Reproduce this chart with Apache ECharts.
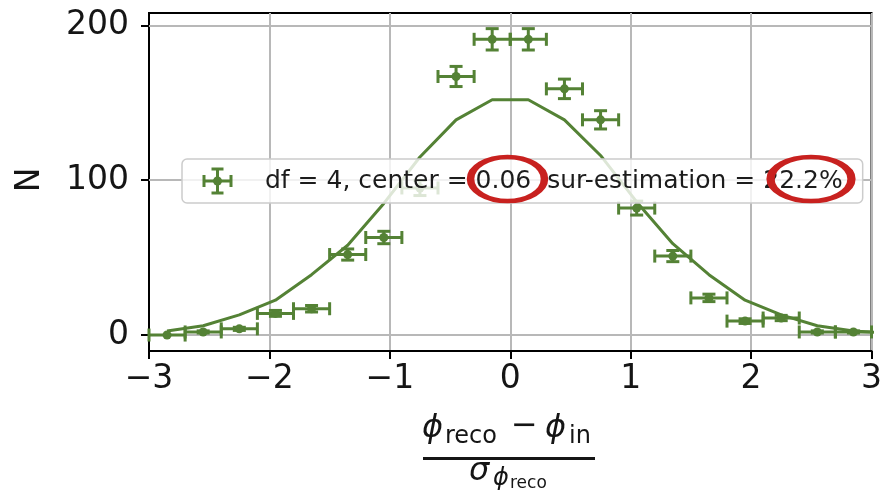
<!DOCTYPE html>
<html>
<head>
<meta charset="utf-8">
<script src="https://cdn.jsdelivr.net/npm/echarts@6/dist/echarts.min.js"></script>
<style>
  html, body { margin: 0; padding: 0; background: #ffffff; }
  #chart { width: 885px; height: 495px; }
</style>
</head>
<body>
<div id="chart"></div>
<script>
// Histogram of normalised residuals: bin centres, counts and uncertainties
const binCenters = [-2.85, -2.55, -2.25, -1.95, -1.65, -1.35, -1.05, -0.75, -0.45, -0.15,
                     0.15,  0.45,  0.75,  1.05,  1.35,  1.65,  1.95,  2.25,  2.55,  2.85];
const binHalfWidths = [0.15, 0.15, 0.15, 0.15, 0.15, 0.15, 0.15, 0.15, 0.15, 0.15,
                       0.15, 0.15, 0.15, 0.15, 0.15, 0.15, 0.15, 0.15, 0.15, 0.15];
const counts = [0, 2, 4, 14, 17, 52, 63, 95, 167, 191,
                191, 159, 139, 82, 51, 24, 9, 11, 2, 2];
const countErrors = [0, 0.7, 1.0, 1.9, 2.1, 3.6, 4.0, 4.9, 6.5, 6.9,
                     6.9, 6.3, 5.9, 4.5, 3.6, 2.4, 1.5, 1.7, 0.7, 0.7];

// Student-t fit curve evaluated at the bin centres
const fitX = [-2.85, -2.55, -2.25, -1.95, -1.65, -1.35, -1.05, -0.75, -0.45, -0.15,
               0.15,  0.45,  0.75,  1.05,  1.35,  1.65,  1.95,  2.25,  2.55,  2.85, 3.15];
const fitY = [2.6, 6, 13, 22.5, 39, 58, 85, 115, 139, 152,
              152, 139, 116, 86, 59, 39, 22.5, 13, 6, 2.6, 1.2];

const xTicks = [-3, -2, -1, 0, 1, 2, 3];
const yTicks = [0, 100, 200];
const legendLabel = 'df = 4, center = 0.06  sur-estimation = 22.2%';

const green = '#548235';
const font = 'DejaVu Sans';
const ink = '#151515';

const errorData = binCenters.map((x, i) => [x, counts[i], binHalfWidths[i], countErrors[i]]);
const fitData = fitX.map((x, i) => [x, fitY[i]]);

const minusFmt = v => (v < 0 ? '\u2212' + Math.abs(v) : String(v));

// one error-bar glyph (cross with caps and a dot) centred at (cx, cy)
function errorbarGlyph(cx, cy, halfW, halfH, cap, z) {
  const st = { stroke: green, lineWidth: 3 };
  const seg = (x1, y1, x2, y2) => ({ type: 'line', z, shape: { x1, y1, x2, y2 }, style: st });
  return [
    seg(cx - halfW, cy, cx + halfW, cy),
    seg(cx - halfW, cy - cap, cx - halfW, cy + cap),
    seg(cx + halfW, cy - cap, cx + halfW, cy + cap),
    seg(cx, cy - halfH, cx, cy + halfH),
    seg(cx - cap, cy - halfH, cx + cap, cy - halfH),
    seg(cx - cap, cy + halfH, cx + cap, cy + halfH),
    { type: 'circle', z, shape: { cx, cy, r: 4.5 }, style: { fill: green } }
  ];
}

function renderErrorbar(params, api) {
  const x = api.value(0), y = api.value(1), xe = api.value(2), ye = api.value(3);
  const c = api.coord([x, y]);
  const l = api.coord([x - xe, y]);
  const r = api.coord([x + xe, y]);
  const t = api.coord([x, y + ye]);
  const b = api.coord([x, y - ye]);
  const cap = 6.5;
  const st = { stroke: green, lineWidth: 3 };
  const seg = (x1, y1, x2, y2) => ({ type: 'line', shape: { x1, y1, x2, y2 }, style: st });
  const children = [
    seg(l[0], l[1], r[0], r[1]),
    seg(l[0], l[1] - cap, l[0], l[1] + cap),
    seg(r[0], r[1] - cap, r[0], r[1] + cap)
  ];
  if (ye > 0) {
    children.push(seg(t[0], t[1], b[0], b[1]));
    children.push(seg(t[0] - cap, t[1], t[0] + cap, t[1]));
    children.push(seg(b[0] - cap, b[1], b[0] + cap, b[1]));
  }
  children.push({ type: 'circle', shape: { cx: c[0], cy: c[1], r: 4.5 }, style: { fill: green } });
  return { type: 'group', children };
}

const chart = echarts.init(document.getElementById('chart'), null, { renderer: 'canvas' });

const mathText = (text, x, y, size, italic, align) => ({
  type: 'text', x, y, z: 50,
  style: {
    text, fill: ink, align: align || 'left', verticalAlign: 'middle',
    font: (italic ? 'italic ' : '') + size + 'px "' + font + '"'
  }
});

chart.setOption({
  animation: false,
  backgroundColor: '#ffffff',
  grid: {
    left: 149, right: 7, top: 13, bottom: 144,
    show: true, borderColor: '#000000', borderWidth: 2, backgroundColor: 'transparent'
  },
  xAxis: {
    type: 'value', min: xTicks[0], max: xTicks[xTicks.length - 1], interval: 1,
    axisLine: { onZero: false, lineStyle: { color: '#000', width: 2 } },
    axisTick: { length: 8, lineStyle: { color: '#000', width: 2 } },
    axisLabel: { formatter: minusFmt, fontFamily: font, fontSize: 33, color: ink, margin: 12 },
    splitLine: { show: true, lineStyle: { color: '#b8b8b8', width: 2 } }
  },
  yAxis: {
    type: 'value', min: -10.3, max: 208,
    axisLine: { onZero: false, lineStyle: { color: '#000', width: 2 } },
    axisTick: { length: 8, customValues: yTicks, lineStyle: { color: '#000', width: 2 } },
    axisLabel: { customValues: yTicks, fontFamily: font, fontSize: 33, color: ink, margin: 20 },
    splitLine: { show: false }
  },
  legend: {
    z: 20,
    left: 182, top: 159,
    padding: [9, 20, 9, 21],
    itemWidth: 29, itemHeight: 26,
    backgroundColor: 'rgba(255,255,255,0.8)',
    borderColor: '#cccccc', borderWidth: 1.5, borderRadius: 5,
    selectedMode: false,
    textStyle: { fontFamily: font, fontSize: 25, color: '#1c1c1c', padding: [0, 0, 0, 28] },
    // the key glyph itself is drawn as a graphic on top of the legend box
    data: [{ name: legendLabel, icon: 'rect', itemStyle: { opacity: 0 } }]
  },
  series: [
    {
      type: 'line', name: 'fit', data: fitData, showSymbol: false, clip: true,
      lineStyle: { color: green, width: 3 }, itemStyle: { color: green }, z: 2,
      markLine: {
        silent: true, symbol: 'none', label: { show: false }, z: 1,
        lineStyle: { color: '#b8b8b8', width: 2, type: 'solid' },
        data: yTicks.map(v => ({ yAxis: v }))
      }
    },
    {
      type: 'custom', name: legendLabel, data: errorData, renderItem: renderErrorbar,
      itemStyle: { color: green }, z: 3,
      encode: { x: 0, y: 1 }
    }
  ],
  graphic: [
    // legend key
    ...errorbarGlyph(217.5, 181, 13.5, 12, 6, 60),
    // y-axis title
    { type: 'text', x: 30, y: 180, rotation: Math.PI / 2, z: 50,
      style: { text: 'N', fill: ink, align: 'center', verticalAlign: 'middle', font: '33px "' + font + '"' } },
    // x-axis title: (phi_reco - phi_in) / sigma_phi_reco
    mathText('\u03D5', 422, 429, 32, true),
    mathText('reco', 445, 436.7, 24, false),
    mathText('\u2212', 524.5, 427, 32, false, 'center'),
    mathText('\u03D5', 545, 429, 32, true),
    mathText('in', 569, 436.7, 24, false),
    { type: 'rect', z: 50, shape: { x: 423, y: 457, width: 172, height: 3 }, style: { fill: ink } },
    mathText('\u03C3', 469, 472, 32, true),
    mathText('\u03D5', 493, 478.7, 24, true),
    mathText('reco', 510, 484, 17, false),
    // highlighted values in the legend
    { type: 'circle', z: 100, x: 507.5, y: 179, scaleX: 1.68, shape: { cx: 0, cy: 0, r: 22 },
      style: { fill: 'none', stroke: '#c8211f', lineWidth: 4.5 } },
    { type: 'circle', z: 100, x: 811, y: 179, scaleX: 1.84, shape: { cx: 0, cy: 0, r: 22 },
      style: { fill: 'none', stroke: '#c8211f', lineWidth: 4.5 } }
  ]
});
</script>
</body>
</html>
